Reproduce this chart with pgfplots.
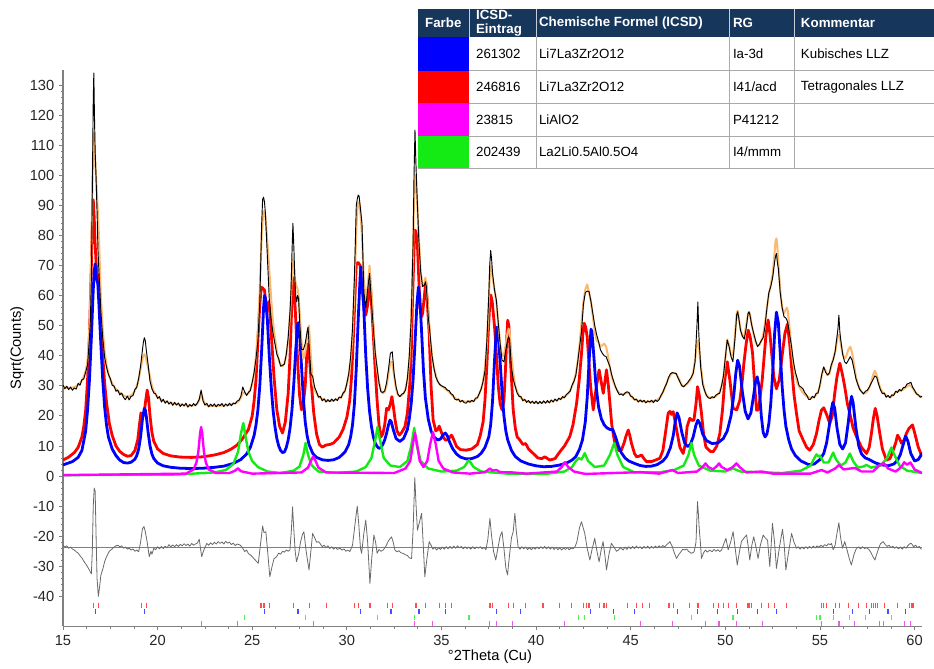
\documentclass[border=0pt]{standalone}
\usepackage{fontspec}
\setmainfont{Liberation Sans}
\usepackage{pgfplots}
\usepackage{pgfplotstable}
\pgfplotsset{compat=1.18}
\definecolor{hdr}{RGB}{22,54,92}
\definecolor{calc}{RGB}{250,185,110}
\definecolor{cred}{RGB}{255,0,0}
\definecolor{cblue}{RGB}{0,0,255}
\definecolor{cmag}{RGB}{255,0,255}
\definecolor{cgreen}{RGB}{20,235,20}
\definecolor{cdiff}{RGB}{105,105,105}
\definecolor{axgray}{RGB}{128,128,128}
\definecolor{gridg}{RGB}{170,170,170}

\pgfplotstableread[row sep=\\]{
x obs calc\\
15.0 30.2 29.6\\ 15.1 29.0 29.5\\ 15.2 29.9 29.4\\ 15.3 28.7 29.3\\ 15.4 29.6 29.3\\ 15.5 28.5 29.4\\ 15.6 29.3 29.6\\ 15.7 28.9 29.9\\ 15.8 30.8 30.3\\ 15.9 30.2 30.9\\
16.0 32.0 31.8\\ 16.1 32.3 33.0\\ 16.2 34.6 35.0\\ 16.3 37.0 38.5\\ 16.4 46.0 50.0\\ 16.45 52.0 60.0\\ 16.5 66.0 75.0\\ 16.55 95.0 95.0\\ 16.6 125.0 110.0\\ 16.63 134.0 114.0\\ 16.66 121.0 111.0\\ 16.7 108.0 105.0\\ 16.75 99.0 99.0\\ 16.8 88.0 93.0\\ 16.85 75.0 87.0\\ 16.9 68.0 80.0\\ 16.95 62.0 70.0\\ 17.0 55.0 60.0\\ 17.1 46.0 49.0\\ 17.2 39.5 41.5\\ 17.3 36.2 37.0\\ 17.4 33.8 34.2\\ 17.5 32.4 32.2\\ 17.6 30.2 30.8\\ 17.7 29.9 29.7\\ 17.8 28.2 28.9\\ 17.9 28.6 28.2\\ 18.0 27.0 27.7\\ 18.1 27.6 27.2\\ 18.2 26.1 26.8\\ 18.3 25.4 26.5\\ 18.4 26.6 26.4\\ 18.5 25.3 26.5\\ 18.6 26.5 26.8\\ 18.7 26.7 27.4\\ 18.8 28.8 28.4\\ 18.9 29.5 29.9\\ 19.0 32.5 32.0\\ 19.1 36.5 35.5\\ 19.2 42.0 38.8\\ 19.25 44.5 40.0\\ 19.3 46.0 40.5\\ 19.35 45.0 40.0\\ 19.4 42.0 38.8\\ 19.5 37.0 36.0\\ 19.6 31.5 33.0\\ 19.7 29.0 30.0\\ 19.8 27.6 28.2\\ 19.9 27.3 27.1\\
20.0 25.8 26.3\\ 20.1 26.4 25.8\\ 20.2 24.6 25.4\\ 20.3 25.5 25.1\\ 20.4 24.2 24.8\\ 20.5 25.0 24.6\\ 20.6 23.9 24.4\\ 20.7 24.6 24.2\\ 20.8 23.5 24.1\\ 20.9 24.5 24.0\\ 21.0 23.6 23.9\\ 21.1 24.3 23.8\\ 21.2 23.1 23.7\\ 21.3 24.0 23.6\\ 21.4 23.3 23.5\\ 21.5 24.2 23.5\\ 21.6 22.9 23.4\\ 21.7 23.8 23.4\\ 21.8 23.2 23.4\\ 21.9 24.1 23.5\\ 22.0 23.4 23.6\\ 22.1 24.3 24.0\\ 22.2 25.5 25.2\\ 22.3 28.6 27.5\\ 22.4 25.0 25.5\\ 22.5 23.6 24.0\\ 22.6 24.2 23.5\\ 22.7 23.0 23.3\\ 22.8 23.9 23.3\\ 22.9 23.2 23.3\\ 23.0 24.0 23.3\\ 23.1 23.0 23.3\\ 23.2 23.9 23.3\\ 23.3 23.4 23.4\\ 23.4 24.1 23.4\\ 23.5 23.1 23.5\\ 23.6 24.0 23.5\\ 23.7 23.3 23.6\\ 23.8 24.2 23.7\\ 23.9 23.4 23.8\\ 24.0 24.3 24.0\\ 24.1 24.0 24.2\\ 24.2 24.9 24.5\\ 24.3 25.2 25.0\\ 24.4 26.5 26.0\\ 24.5 29.6 27.8\\ 24.6 28.0 27.6\\ 24.7 26.8 27.0\\ 24.8 27.8 27.5\\ 24.9 28.4 28.8\\
25.0 31.2 30.8\\ 25.1 34.5 34.0\\ 25.2 39.0 40.0\\ 25.3 45.0 49.0\\ 25.4 58.0 62.0\\ 25.5 84.0 80.0\\ 25.55 92.0 85.0\\ 25.6 92.7 88.0\\ 25.65 91.0 88.0\\ 25.7 87.0 86.0\\ 25.8 73.0 78.0\\ 25.9 59.0 69.0\\ 26.0 52.0 59.0\\ 26.1 47.5 51.0\\ 26.2 44.0 46.0\\ 26.3 40.5 41.5\\ 26.4 39.0 38.5\\ 26.5 36.5 37.0\\ 26.6 36.8 36.5\\ 26.7 37.2 37.5\\ 26.8 40.5 40.0\\ 26.9 46.0 45.0\\ 27.0 55.0 54.0\\ 27.05 62.0 60.0\\ 27.1 74.0 67.0\\ 27.15 84.0 72.0\\ 27.2 76.0 70.0\\ 27.25 66.0 66.0\\ 27.3 60.0 64.0\\ 27.35 58.0 63.0\\ 27.4 60.0 62.0\\ 27.45 59.0 60.0\\ 27.5 52.0 55.0\\ 27.6 42.0 45.0\\ 27.7 42.0 39.0\\ 27.8 44.0 41.0\\ 27.9 48.0 46.0\\ 27.95 49.5 49.0\\ 28.0 44.0 50.0\\ 28.1 34.0 40.0\\ 28.2 33.0 31.0\\ 28.3 29.5 28.5\\ 28.4 28.0 27.5\\ 28.5 26.2 26.5\\ 28.6 26.5 26.0\\ 28.7 25.0 25.6\\ 28.8 25.7 25.3\\ 28.9 24.6 25.1\\ 29.0 25.4 25.0\\ 29.1 24.7 25.0\\ 29.2 25.6 25.0\\ 29.3 24.9 25.1\\ 29.4 25.7 25.3\\ 29.5 25.1 25.5\\ 29.6 26.3 25.8\\ 29.7 26.0 26.3\\ 29.8 27.6 27.2\\ 29.9 28.2 28.5\\
30.0 30.8 30.5\\ 30.1 34.0 33.5\\ 30.2 39.5 38.5\\ 30.3 49.0 47.0\\ 30.4 66.0 62.0\\ 30.5 90.0 82.0\\ 30.55 92.0 88.0\\ 30.6 93.4 91.0\\ 30.65 93.0 91.0\\ 30.7 90.0 89.0\\ 30.8 84.0 80.0\\ 30.9 61.0 65.0\\ 31.0 56.0 59.0\\ 31.1 62.0 63.0\\ 31.2 67.4 70.0\\ 31.3 58.0 62.0\\ 31.4 49.0 50.0\\ 31.5 41.0 41.0\\ 31.6 36.0 35.0\\ 31.7 31.0 31.0\\ 31.8 28.0 28.5\\ 31.9 27.8 27.5\\ 32.0 28.3 28.0\\ 32.1 31.0 30.0\\ 32.2 35.5 34.0\\ 32.3 40.8 38.0\\ 32.4 41.3 38.0\\ 32.5 34.0 33.0\\ 32.6 29.7 29.0\\ 32.7 27.2 27.0\\ 32.8 26.4 26.5\\ 32.9 27.2 26.8\\ 33.0 27.5 27.5\\ 33.1 28.6 29.0\\ 33.2 32.5 32.0\\ 33.3 40.0 38.0\\ 33.4 52.0 52.0\\ 33.5 77.0 75.0\\ 33.55 100.0 92.0\\ 33.6 115.0 100.0\\ 33.65 104.0 98.0\\ 33.7 95.0 93.0\\ 33.8 79.0 80.0\\ 33.9 68.0 68.0\\ 34.0 63.0 63.0\\ 34.1 63.5 64.0\\ 34.15 64.6 66.0\\ 34.2 63.0 64.0\\ 34.3 53.0 55.0\\ 34.4 47.0 46.0\\ 34.5 40.0 40.0\\ 34.6 36.0 36.0\\ 34.7 33.0 33.5\\ 34.8 31.5 31.5\\ 34.9 30.5 30.5\\
35.0 30.0 30.0\\ 35.1 29.7 29.5\\ 35.2 29.4 29.0\\ 35.3 28.6 28.5\\ 35.4 28.4 28.0\\ 35.5 27.4 27.3\\ 35.6 27.0 26.6\\ 35.7 25.6 26.0\\ 35.8 25.3 25.5\\ 35.9 25.6 25.2\\ 36.0 24.6 25.0\\ 36.1 25.2 24.9\\ 36.2 24.4 24.8\\ 36.3 24.2 24.7\\ 36.4 25.0 24.7\\ 36.5 24.5 24.9\\ 36.6 25.2 24.8\\ 36.7 24.7 25.0\\ 36.8 25.9 25.5\\ 36.9 26.0 26.2\\ 37.0 27.5 27.3\\ 37.1 29.0 29.0\\ 37.2 31.5 31.5\\ 37.3 35.0 36.0\\ 37.4 45.0 44.0\\ 37.5 60.0 58.0\\ 37.55 70.0 66.0\\ 37.6 75.0 70.0\\ 37.65 72.0 69.0\\ 37.7 67.4 66.0\\ 37.8 62.0 62.0\\ 37.9 58.5 58.0\\ 38.0 51.0 51.0\\ 38.1 44.0 44.0\\ 38.2 38.5 40.0\\ 38.3 38.0 40.0\\ 38.4 42.0 44.0\\ 38.5 45.5 48.0\\ 38.55 46.3 49.0\\ 38.6 45.5 48.0\\ 38.7 36.0 40.0\\ 38.8 32.0 34.0\\ 38.9 29.7 30.0\\ 39.0 27.6 28.0\\ 39.1 26.5 26.8\\ 39.2 26.4 26.0\\ 39.3 25.0 25.5\\ 39.4 25.5 25.2\\ 39.5 24.5 24.9\\ 39.6 25.1 24.7\\ 39.7 24.2 24.6\\ 39.8 24.9 24.5\\ 39.9 24.1 24.5\\
40.0 24.9 24.4\\ 40.1 24.0 24.4\\ 40.2 24.8 24.4\\ 40.3 24.1 24.4\\ 40.4 25.0 24.5\\ 40.5 24.2 24.5\\ 40.6 25.1 24.6\\ 40.7 24.3 24.7\\ 40.8 25.3 24.8\\ 40.9 24.6 25.0\\ 41.0 25.6 25.2\\ 41.1 24.9 25.3\\ 41.2 25.9 25.5\\ 41.3 25.4 25.7\\ 41.4 26.4 26.0\\ 41.5 26.0 26.5\\ 41.6 27.1 26.8\\ 41.7 27.6 27.5\\ 41.8 28.2 28.5\\ 41.9 30.2 29.8\\ 42.0 31.5 31.5\\ 42.1 33.5 34.0\\ 42.2 38.0 38.0\\ 42.3 43.0 44.0\\ 42.4 48.0 51.0\\ 42.5 57.0 58.0\\ 42.6 61.0 62.0\\ 42.7 61.5 63.7\\ 42.8 61.3 61.0\\ 42.9 58.0 58.0\\ 43.0 54.0 53.0\\ 43.1 50.0 48.0\\ 43.2 47.0 45.0\\ 43.3 44.7 44.5\\ 43.4 42.0 43.0\\ 43.5 40.8 43.5\\ 43.6 40.0 44.0\\ 43.7 39.7 43.0\\ 43.8 38.0 40.0\\ 43.9 36.4 36.0\\ 44.0 33.5 33.0\\ 44.1 31.5 31.0\\ 44.2 29.6 29.5\\ 44.3 28.2 28.3\\ 44.4 27.0 27.5\\ 44.5 27.3 27.2\\ 44.6 26.8 27.2\\ 44.7 27.6 27.4\\ 44.8 28.0 27.7\\ 44.9 27.8 27.6\\
45.0 26.5 26.8\\ 45.1 26.3 26.0\\ 45.2 25.3 25.5\\ 45.3 25.6 25.2\\ 45.4 24.6 25.0\\ 45.5 25.3 25.0\\ 45.6 24.6 25.0\\ 45.7 25.2 24.8\\ 45.8 24.3 24.7\\ 45.9 25.0 24.7\\ 46.0 24.6 24.7\\ 46.1 25.2 24.8\\ 46.2 24.4 24.9\\ 46.3 25.3 25.0\\ 46.4 24.8 25.3\\ 46.5 25.4 25.8\\ 46.6 26.8 26.6\\ 46.7 27.9 27.8\\ 46.8 29.5 29.3\\ 46.9 30.8 31.0\\ 47.0 32.8 32.5\\ 47.1 34.0 33.6\\ 47.2 34.4 34.2\\ 47.3 34.2 34.3\\ 47.4 34.1 34.0\\ 47.5 32.6 33.0\\ 47.6 31.3 31.5\\ 47.7 30.0 30.2\\ 47.8 29.7 29.8\\ 47.9 30.4 30.2\\ 48.0 31.0 30.8\\ 48.1 31.9 31.5\\ 48.2 32.8 32.5\\ 48.3 34.1 34.5\\ 48.4 38.0 38.5\\ 48.5 50.0 44.0\\ 48.55 57.9 45.0\\ 48.6 47.0 43.5\\ 48.7 36.0 37.0\\ 48.8 30.6 31.5\\ 48.9 28.5 28.5\\ 49.0 26.8 27.0\\ 49.1 26.0 26.3\\ 49.2 25.8 26.0\\ 49.3 26.4 26.0\\ 49.4 26.0 26.2\\ 49.5 26.9 26.5\\ 49.6 27.3 27.1\\ 49.7 27.5 28.0\\ 49.8 30.0 29.8\\ 49.9 33.2 33.0\\
50.0 39.5 39.0\\ 50.1 45.2 45.4\\ 50.2 43.0 43.5\\ 50.3 39.7 40.0\\ 50.4 38.0 40.0\\ 50.5 45.0 46.0\\ 50.6 53.5 54.0\\ 50.65 54.6 55.0\\ 50.7 53.0 53.0\\ 50.8 48.5 49.0\\ 50.9 46.5 46.5\\ 51.0 45.5 46.5\\ 51.1 49.0 50.0\\ 51.2 54.0 54.0\\ 51.25 54.6 54.6\\ 51.3 53.5 54.0\\ 51.4 50.0 50.0\\ 51.5 47.4 47.0\\ 51.6 45.0 44.5\\ 51.7 43.0 43.5\\ 51.8 43.8 43.5\\ 51.9 45.0 45.0\\ 52.0 46.0 47.0\\ 52.1 50.0 51.0\\ 52.2 56.0 56.0\\ 52.3 61.0 60.5\\ 52.4 63.0 63.5\\ 52.5 66.0 67.0\\ 52.6 71.0 74.0\\ 52.65 73.0 78.0\\ 52.7 74.0 79.0\\ 52.75 71.0 76.0\\ 52.8 69.0 71.0\\ 52.9 61.0 62.0\\ 53.0 56.0 56.0\\ 53.1 53.0 54.0\\ 53.2 52.5 55.5\\ 53.25 51.9 56.0\\ 53.3 51.0 55.0\\ 53.4 47.0 49.0\\ 53.5 43.0 42.0\\ 53.6 38.0 37.0\\ 53.7 34.6 33.5\\ 53.8 32.4 31.0\\ 53.9 30.0 29.7\\ 54.0 29.6 28.6\\ 54.1 29.0 27.7\\ 54.2 27.7 27.0\\ 54.3 26.9 26.5\\ 54.4 25.5 26.2\\ 54.5 25.5 26.0\\ 54.6 26.5 26.1\\ 54.7 26.0 26.4\\ 54.8 27.5 27.0\\ 54.9 27.6 28.0\\
55.0 30.4 30.0\\ 55.1 34.0 33.5\\ 55.2 36.3 36.0\\ 55.3 34.5 35.0\\ 55.4 33.6 33.5\\ 55.5 34.3 34.0\\ 55.6 37.0 36.5\\ 55.7 38.6 39.0\\ 55.8 41.3 41.0\\ 55.9 46.3 45.0\\ 55.95 49.0 47.0\\ 56.0 53.5 47.0\\ 56.05 48.0 46.0\\ 56.1 45.2 44.0\\ 56.2 40.5 40.5\\ 56.3 38.0 39.0\\ 56.4 37.4 40.0\\ 56.5 38.5 42.0\\ 56.6 39.7 43.0\\ 56.7 38.5 41.0\\ 56.8 35.5 37.0\\ 56.9 32.4 33.0\\ 57.0 30.5 30.5\\ 57.1 28.8 29.0\\ 57.2 28.0 28.0\\ 57.3 27.3 27.5\\ 57.4 28.2 27.6\\ 57.5 28.5 28.2\\ 57.6 29.5 29.2\\ 57.7 30.8 31.0\\ 57.8 32.0 33.5\\ 57.9 33.3 35.0\\ 58.0 32.8 33.5\\ 58.1 30.5 31.0\\ 58.2 28.6 29.0\\ 58.3 27.4 28.0\\ 58.4 27.6 27.3\\ 58.5 26.2 26.8\\ 58.6 26.8 26.5\\ 58.7 26.0 26.3\\ 58.8 27.0 26.5\\ 58.9 26.8 27.2\\ 59.0 28.2 27.8\\ 59.1 27.8 28.2\\ 59.2 28.8 28.3\\ 59.3 28.3 28.5\\ 59.4 29.4 28.8\\ 59.5 29.5 29.3\\ 59.6 30.6 29.8\\ 59.7 30.8 30.2\\ 59.8 31.2 30.0\\ 59.9 29.5 29.3\\ 60.0 28.5 28.2\\ 60.1 27.3 27.5\\ 60.2 27.0 26.8\\ 60.3 26.2 26.5\\ 60.4 26.5 26.4\\
}\obscalc

\newcommand{\tl}{\fontsize{11}{13}\selectfont}
\newcommand{\tb}{\fontsize{10}{10.6}\selectfont}

\begin{document}
\begin{tikzpicture}
\path (0pt,0pt) rectangle (700.5pt,501pt);
\begin{axis}[
  at={(47.25pt,31pt)}, anchor=south west,
  scale only axis, width=644.6pt, height=417.5pt,
  xmin=15, xmax=60.4, ymin=-50, ymax=135,
  axis lines*=left,
  axis line style={axgray, line width=0.8pt},
  tick style={axgray, line width=0.6pt},
  tick align=outside,
  major tick length=3pt, minor tick length=1.6pt,
  xtick={15,20,...,60}, minor x tick num=3,
  ytick={-40,-30,...,130}, minor y tick num=4,
  /pgf/number format/assume math mode=true,
  ticklabel style={font=\tl, text=black!85},
  xlabel={°2Theta (Cu)}, ylabel={Sqrt(Counts)},
  xlabel style={font=\tl, at={(axis description cs:0.497,-0.0545)}, anchor=center},
  ylabel style={font=\tl, at={(axis description cs:-0.0535,0.5)}, anchor=center, rotate=0},
  every axis plot/.append style={line join=round},
]
% components
\addplot[cred, line width=2.1pt] coordinates {(15.0,5.3)(15.3,6.3)(15.6,7.8)(15.8,9.5)(16.0,13)(16.1,16.5)(16.2,22)(16.3,32)(16.4,47)(16.5,70)(16.55,84)(16.6,91.8)(16.65,86)(16.7,77)(16.75,71)(16.8,67)(16.87,66.8)(16.95,60)(17.0,52)(17.1,40)(17.2,31)(17.3,24.5)(17.45,17.5)(17.6,13.5)(17.8,10)(18.0,8.2)(18.2,7.2)(18.4,6.6)(18.6,6.8)(18.8,8.5)(18.95,12)(19.05,17.5)(19.12,21)(19.2,20)(19.28,20.5)(19.37,25)(19.45,28.6)(19.52,26)(19.6,20)(19.7,14.5)(19.8,11.5)(20.0,9)(20.3,7.5)(20.7,6.7)(21.2,6.3)(21.8,6.2)(22.4,6.4)(23.0,7)(23.5,7.8)(23.9,9)(24.2,10.3)(24.5,12.5)(24.8,15.5)(25.0,20)(25.1,25)(25.2,32)(25.3,45)(25.4,57)(25.48,62.8)(25.55,62.5)(25.65,61.8)(25.75,55)(25.8,55)(25.88,58)(25.95,53)(26.05,43)(26.15,33)(26.3,22)(26.45,16.5)(26.6,14.3)(26.75,18)(26.9,27.5)(27.0,40)(27.08,55)(27.15,66)(27.22,62)(27.3,52)(27.4,38)(27.5,27)(27.6,22)(27.7,24)(27.8,30)(27.88,40)(27.95,44)(28.02,40)(28.12,31)(28.25,21)(28.4,14)(28.55,10.5)(28.7,9.6)(28.9,10.3)(29.1,10.5)(29.3,11)(29.6,13)(29.8,15.5)(30.0,19.5)(30.15,25)(30.25,33)(30.35,47)(30.45,63)(30.5,70.7)(30.6,71)(30.7,70)(30.8,63)(30.9,56)(31.0,53.5)(31.1,57)(31.2,64)(31.28,60)(31.4,47)(31.5,35)(31.6,25)(31.7,17)(31.8,13)(31.9,14)(32.0,17)(32.1,22.5)(32.2,22)(32.3,24)(32.38,26.4)(32.46,23)(32.55,18.6)(32.65,15)(32.77,13.6)(32.9,14.5)(33.07,16.4)(33.2,21)(33.33,30.8)(33.4,40)(33.47,58.5)(33.55,75)(33.6,81.8)(33.66,81)(33.72,78.5)(33.8,66)(33.86,56.3)(33.95,53)(34.0,54)(34.1,60)(34.17,64.6)(34.25,58)(34.35,47.4)(34.45,30)(34.56,18.6)(34.7,15)(34.8,15.5)(34.88,16.6)(34.97,15)(35.09,13)(35.2,12)(35.32,12)(35.45,13)(35.53,13.6)(35.62,12.5)(35.8,9.8)(36.0,8.8)(36.3,8.6)(36.6,9)(36.9,10.5)(37.05,13.5)(37.2,18)(37.3,25.3)(37.4,37)(37.47,47.4)(37.55,57)(37.61,60.2)(37.68,58)(37.8,50)(37.91,40)(38.0,30)(38.1,24)(38.2,22)(38.3,25)(38.38,35)(38.45,46)(38.5,51.8)(38.56,50)(38.65,38)(38.79,22)(38.9,16)(39.0,13)(39.14,12)(39.3,10.5)(39.45,10.8)(39.6,9)(39.85,7.5)(40.1,6)(40.3,5.8)(40.46,6.4)(40.73,5.3)(41.0,5.8)(41.26,8.1)(41.5,10)(41.78,13.1)(41.95,17)(42.14,24.2)(42.28,32)(42.4,40.8)(42.47,47)(42.54,50.8)(42.62,49.5)(42.7,46.3)(42.8,37)(42.88,29.7)(43.02,22)(43.16,28.6)(43.33,35.3)(43.45,31)(43.55,27.5)(43.65,32)(43.72,35.3)(43.82,30)(43.9,24.2)(44.0,17)(44.16,10.9)(44.35,8.5)(44.51,8.7)(44.65,11)(44.74,13.1)(44.87,15.3)(44.95,13.5)(45.04,10.9)(45.2,7.5)(45.31,6.4)(45.45,6.6)(45.57,7)(45.7,5.8)(45.83,4.8)(46.1,4.8)(46.3,5.3)(46.54,5.9)(46.7,8.5)(46.85,15)(46.98,20.9)(47.07,21.5)(47.15,20.5)(47.24,21.4)(47.35,18)(47.46,14.2)(47.6,9.5)(47.77,7.5)(47.9,11)(47.98,16.4)(48.12,19.2)(48.24,18.5)(48.34,18.6)(48.45,24)(48.53,29.7)(48.62,27)(48.74,20.8)(48.85,14)(48.97,9.7)(49.2,8.2)(49.36,8.1)(49.55,10)(49.71,14.2)(49.85,22)(49.97,31.9)(50.1,38)(50.24,31.9)(50.41,22.5)(50.6,22)(50.77,25.3)(50.9,32)(50.98,37.5)(51.1,44)(51.21,48.5)(51.32,46)(51.44,40.8)(51.55,30)(51.65,21.9)(51.74,22)(51.82,25.3)(51.95,32)(52.05,39.7)(52.15,47)(52.26,51.9)(52.36,47)(52.46,40)(52.56,33)(52.7,29)(52.85,32)(53.0,40)(53.15,47.5)(53.28,50.5)(53.4,44)(53.5,36.3)(53.63,27)(53.76,20.8)(53.9,15)(54.11,12)(54.3,9.5)(54.46,8.6)(54.65,10.5)(54.82,14.2)(54.95,18.5)(55.08,21.9)(55.2,22.7)(55.35,20.5)(55.52,17.5)(55.65,20)(55.78,27.5)(55.9,33)(56.05,37.5)(56.18,34)(56.31,29.7)(56.45,24)(56.58,20.8)(56.75,16)(56.93,13.1)(57.2,9.5)(57.46,7.5)(57.6,9.5)(57.72,14.2)(57.82,19)(57.92,22.5)(58.02,20)(58.16,14.2)(58.3,9)(58.51,5.3)(58.7,5.8)(58.87,8.6)(59.0,11)(59.1,13.6)(59.2,12.5)(59.31,10.9)(59.45,12)(59.57,14.2)(59.7,15.8)(59.89,17)(60.02,14)(60.19,9.7)(60.4,6.4)};
\addplot[cblue, line width=2.1pt] coordinates {(15.0,3.7)(15.5,4.8)(15.8,6.2)(16.0,8.5)(16.2,15)(16.3,22)(16.4,32)(16.5,46)(16.6,62)(16.65,68)(16.7,70.5)(16.76,66)(16.84,64)(16.9,57)(17.0,44)(17.1,32)(17.2,23)(17.3,17)(17.4,13)(17.6,9)(17.8,6.8)(18.0,5.3)(18.2,4.5)(18.4,4.3)(18.6,4.6)(18.8,5.6)(18.9,6.8)(19.0,9)(19.1,13)(19.2,19)(19.3,22.5)(19.35,22)(19.4,20)(19.5,14.5)(19.6,10)(19.7,7.3)(19.8,5.8)(20.0,4.3)(20.3,3.4)(20.7,2.9)(21.2,2.6)(21.8,2.5)(22.4,2.6)(23.0,2.9)(23.5,3.3)(24.0,4.2)(24.4,5.5)(24.7,7.3)(24.9,9.5)(25.1,13.5)(25.2,17)(25.3,22)(25.4,30)(25.5,42)(25.6,56)(25.65,60)(25.7,59)(25.8,52)(25.9,40)(26.0,30)(26.1,22)(26.2,16.5)(26.3,12.5)(26.4,10)(26.5,8.5)(26.6,7.8)(26.7,8)(26.8,9.5)(26.9,12)(27.0,16)(27.1,22)(27.2,31)(27.3,42)(27.4,50.5)(27.45,51)(27.5,48)(27.6,37)(27.7,26)(27.8,18)(27.9,13.5)(28.0,10.5)(28.2,7.5)(28.4,6.2)(28.7,5.4)(29.0,5.2)(29.3,5.4)(29.6,6.2)(29.9,8)(30.1,10.5)(30.2,13)(30.3,17)(30.4,24)(30.5,36)(30.6,52)(30.7,66)(30.75,69.5)(30.8,68)(30.9,55)(31.0,40)(31.1,29)(31.2,21.5)(31.3,16.5)(31.4,13)(31.5,11)(31.6,9.8)(31.7,9.2)(31.8,9.5)(31.9,10.5)(32.0,12)(32.1,14.2)(32.2,17)(32.28,18.6)(32.35,18)(32.45,15.5)(32.6,12.5)(32.8,11.5)(33.0,12.5)(33.2,15.5)(33.3,19)(33.4,24)(33.5,32)(33.6,44)(33.7,57)(33.78,62.8)(33.85,60)(33.95,48)(34.05,35)(34.15,26)(34.3,19)(34.45,15)(34.6,13)(34.8,12)(34.95,12.3)(35.1,13.8)(35.2,14.3)(35.3,13.5)(35.45,11)(35.6,9)(35.8,7.3)(36.0,6.3)(36.3,5.7)(36.6,5.8)(36.9,6.5)(37.1,7.6)(37.3,9.5)(37.5,13)(37.6,17)(37.7,25)(37.8,38)(37.9,49)(37.95,49.5)(38.0,47)(38.1,38)(38.2,28)(38.3,20)(38.4,15)(38.5,12)(38.7,8.5)(38.9,6.5)(39.2,5)(39.6,4)(40.0,3.4)(40.4,3.1)(40.8,3.2)(41.2,3.6)(41.6,4.3)(41.9,5.3)(42.1,6.5)(42.3,9)(42.45,12)(42.6,18)(42.7,26)(42.8,38)(42.9,48.8)(42.95,48)(43.05,40)(43.15,31)(43.3,23)(43.45,19)(43.6,17)(43.75,16)(43.9,15.5)(44.05,15.5)(44.2,13)(44.35,10)(44.5,7.8)(44.7,6)(44.9,5)(45.2,4.2)(45.5,3.5)(45.8,3.2)(46.1,3.3)(46.4,3.8)(46.7,5)(46.9,6.5)(47.1,9.5)(47.25,13.5)(47.35,18)(47.45,21)(47.55,19.5)(47.7,14.5)(47.85,11)(48.0,9.8)(48.15,10.5)(48.3,13)(48.45,17)(48.55,18.6)(48.65,17.5)(48.8,14)(49.0,11.8)(49.3,10.8)(49.6,11)(49.9,12.5)(50.1,15)(50.3,20)(50.45,27)(50.55,34)(50.65,38.5)(50.75,36.5)(50.9,28)(51.05,21.5)(51.2,19)(51.35,21)(51.5,27)(51.6,31.5)(51.68,33)(51.78,30)(51.9,20)(52.0,14.5)(52.1,13)(52.2,14)(52.3,17.5)(52.4,24)(52.5,34)(52.6,47)(52.7,54.5)(52.8,51)(52.9,41)(53.0,30)(53.1,22)(53.2,16.5)(53.35,12)(53.5,9)(53.7,6.8)(54.0,5)(54.4,3.8)(54.7,4)(55.0,5.5)(55.2,7.5)(55.35,11)(55.5,17)(55.6,22)(55.68,24.5)(55.78,22.5)(55.9,16)(56.05,10.5)(56.2,9)(56.35,11)(56.5,18)(56.6,24)(56.67,26.5)(56.75,24.5)(56.9,16)(57.05,10)(57.2,7.3)(57.4,6)(57.6,5.5)(57.8,4.8)(58.0,4.2)(58.3,3.7)(58.6,3.4)(58.9,4)(59.1,5.2)(59.25,7.2)(59.4,10.5)(59.53,13.3)(59.65,11.5)(59.8,7.5)(60.0,5)(60.2,5.5)(60.4,7.6)};
\addplot[cgreen, line width=1.8pt] coordinates {(15.0,0.3)(21.0,0.5)(23.0,1.2)(23.6,2)(24.0,4)(24.25,8)(24.4,14)(24.53,17.6)(24.65,13)(24.8,8)(25.0,5)(25.3,3)(25.8,1.5)(26.5,1)(27.2,1.8)(27.5,3.2)(27.7,7)(27.82,11)(27.95,7)(28.15,3.5)(28.5,1.5)(29.5,1)(30.5,1.5)(31.0,3)(31.3,6)(31.5,12)(31.62,16.3)(31.75,12)(31.95,6)(32.3,3.5)(32.8,3)(33.2,5)(33.4,10)(33.56,16)(33.7,10)(33.9,5)(34.3,2.5)(35.0,1.5)(35.8,1.8)(36.2,3)(36.45,5.3)(36.7,3)(37.1,1.5)(38.5,0.8)(40.5,0.7)(41.5,1.5)(41.9,3)(42.1,5)(42.26,6)(42.4,5.5)(42.57,7.6)(42.75,5)(43.1,3)(43.6,3.5)(43.9,7)(44.13,11)(44.3,7)(44.6,3)(45.2,1.2)(46.5,1.2)(47.3,2)(47.8,3.5)(48.05,7)(48.21,11)(48.35,7)(48.6,3.5)(49.2,1.8)(50.0,1.5)(50.41,2.5)(50.8,1.5)(53.0,1)(54.0,1.8)(54.5,3.5)(54.75,6.5)(54.82,7.2)(54.92,6.5)(55.0,6.8)(55.2,4.5)(55.45,4.5)(55.6,6.5)(55.7,7.8)(55.85,5.5)(56.1,3.5)(56.35,4.5)(56.5,6.5)(56.58,7.5)(56.75,5)(57.0,2.8)(57.3,3.2)(57.46,3.7)(57.7,2.8)(58.2,3.5)(58.55,6)(58.7,8.5)(58.78,9.5)(58.9,7.5)(59.2,3.5)(59.6,1.8)(60.4,1)};
\addplot[cmag, line width=1.8pt] coordinates {(15.0,0.3)(21.5,0.8)(21.9,2.2)(22.05,4.5)(22.15,8)(22.25,14.5)(22.3,16.3)(22.35,14.5)(22.45,8)(22.55,4.5)(22.7,2.2)(23.1,1)(23.8,1)(24.1,1.8)(24.24,2.6)(24.4,1.6)(25.0,0.8)(27.6,1.2)(27.95,2.8)(28.1,5)(28.22,6.5)(28.35,5)(28.5,2.8)(28.9,1.2)(32.5,1)(33.1,2.5)(33.35,5)(33.5,11)(33.6,14.3)(33.7,11)(33.85,5)(34.05,3)(34.25,5)(34.4,10.5)(34.55,14.6)(34.7,10.5)(34.85,5)(35.1,2.5)(35.6,1.2)(36.5,0.8)(37.3,1.3)(37.45,2)(37.56,2.5)(37.7,1.8)(37.9,2)(38.1,1.3)(38.75,1.2)(39.5,0.8)(41.1,1.5)(41.35,3)(41.52,4.6)(41.7,3)(42.0,1.5)(42.6,0.7)(45.52,1.3)(46.5,0.8)(47.21,2)(47.5,1)(48.5,1.5)(48.8,3)(48.95,4.2)(49.1,3)(49.35,2.2)(49.55,3.3)(49.67,4.2)(49.8,3)(50.1,2)(50.4,3)(50.59,4.2)(50.75,3)(51.1,1.2)(51.95,1.5)(52.5,0.8)(54.5,0.8)(55.08,2)(55.4,1.2)(55.8,2.5)(56.01,3.7)(56.25,2.2)(56.84,2.7)(57.2,1.5)(57.8,1.5)(58.13,3.5)(58.37,4.3)(58.6,2.5)(59.0,1.5)(59.3,3)(59.45,4.6)(59.6,3.8)(59.78,4.5)(60.0,2.2)(60.4,1)};
% calc and obs
\addplot[calc, line width=1.5pt] table[x=x, y=calc] {\obscalc};
\addplot[black, line width=0.7pt] table[x=x, y=obs] {\obscalc};
% difference
\addplot[axgray, line width=0.5pt] coordinates {(15,-23.7)(60.4,-23.7)};
\addplot[cdiff, line width=0.6pt] coordinates {(15.0,-23.0)(15.1,-23.6)(15.2,-23.2)(15.3,-24.0)(15.4,-23.6)(15.5,-24.3)(15.6,-24.6)(15.7,-25.2)(15.8,-25.6)(15.9,-26.5)(16.0,-27.2)(16.1,-28.3)(16.2,-29.2)(16.3,-30.2)(16.4,-31.3)(16.5,-32.5)(16.55,-25)(16.6,-10)(16.65,-4)(16.7,-5)(16.75,-20)(16.8,-34)(16.87,-40)(16.95,-36)(17.0,-33)(17.1,-31)(17.2,-28.5)(17.3,-26.8)(17.45,-25)(17.6,-24.2)(17.7,-23.6)(17.8,-23.2)(17.9,-23.0)(18.0,-23.5)(18.1,-23.2)(18.2,-24.0)(18.3,-23.6)(18.4,-24.3)(18.5,-24.0)(18.6,-24.6)(18.7,-24.2)(18.8,-25.0)(18.9,-24.6)(19.0,-25.2)(19.1,-22)(19.2,-17.5)(19.28,-16.8)(19.35,-18.5)(19.45,-22)(19.56,-26.8)(19.65,-25)(19.7,-26)(19.8,-24)(19.9,-24.5)(20.0,-23.5)(20.1,-24.2)(20.2,-23.4)(20.3,-24.1)(20.4,-23.3)(20.5,-23.9)(20.6,-22.8)(20.7,-23.6)(20.8,-22.9)(20.9,-23.5)(21.0,-22.8)(21.1,-23.4)(21.2,-22.7)(21.3,-23.2)(21.4,-22.5)(21.5,-23.1)(21.6,-22.6)(21.7,-23.3)(21.8,-22.4)(21.9,-23.0)(22.0,-22.6)(22.1,-22.3)(22.2,-21.0)(22.33,-26.8)(22.45,-24.5)(22.6,-22.4)(22.7,-23.0)(22.8,-22.2)(22.9,-22.8)(23.0,-22.0)(23.1,-22.6)(23.2,-21.8)(23.3,-22.4)(23.4,-21.9)(23.5,-22.6)(23.6,-21.7)(23.7,-22.3)(23.8,-22.0)(23.9,-22.8)(24.0,-22.3)(24.1,-23.1)(24.2,-22.6)(24.35,-22.9)(24.45,-23.5)(24.6,-25.1)(24.7,-24.6)(24.8,-25.8)(24.9,-26.2)(25.0,-26.8)(25.1,-27.5)(25.2,-28.2)(25.32,-29)(25.45,-22)(25.55,-16.6)(25.62,-18.8)(25.72,-18.5)(25.8,-24)(25.93,-33.5)(26.05,-30)(26.15,-27.5)(26.29,-26.8)(26.4,-25.6)(26.5,-26.0)(26.6,-25.0)(26.7,-25.3)(26.8,-24.6)(26.9,-25.0)(26.99,-24.6)(27.07,-18)(27.13,-10.2)(27.2,-18)(27.27,-25)(27.34,-28.5)(27.45,-26)(27.55,-22)(27.65,-19.5)(27.73,-18.5)(27.85,-25)(28.0,-31.2)(28.1,-25)(28.19,-19.1)(28.3,-20.5)(28.4,-22)(28.5,-21.8)(28.58,-22.4)(28.7,-23.5)(28.8,-23.0)(28.9,-23.8)(29.0,-23.2)(29.1,-24.1)(29.2,-23.5)(29.3,-24.3)(29.4,-23.7)(29.5,-24.4)(29.63,-24)(29.75,-24.6)(29.85,-24.2)(29.95,-25.0)(30.05,-24.6)(30.16,-25.1)(30.3,-23)(30.45,-15)(30.55,-10)(30.63,-16)(30.72,-24)(30.78,-25.7)(30.9,-19)(31.0,-14.6)(31.1,-22)(31.22,-35.7)(31.32,-27)(31.43,-19.6)(31.52,-22)(31.6,-25.7)(31.7,-24.4)(31.8,-25.0)(31.92,-24.6)(32.05,-23.5)(32.2,-21.5)(32.36,-20.2)(32.45,-22)(32.54,-24.6)(32.65,-25.2)(32.75,-24.8)(32.85,-25.5)(32.98,-25.7)(33.1,-26.2)(33.2,-26.4)(33.3,-27.2)(33.42,-27.4)(33.5,-18)(33.59,-0.5)(33.66,-10)(33.73,-18)(33.85,-15)(33.95,-12.4)(34.03,-22)(34.12,-33.5)(34.22,-28)(34.35,-21.8)(34.45,-23)(34.55,-24.3)(34.65,-23.6)(34.74,-24.6)(34.85,-23.8)(34.95,-24.4)(35.05,-23.6)(35.15,-24.3)(35.25,-23.5)(35.35,-24.2)(35.45,-23.4)(35.55,-24.1)(35.65,-23.3)(35.75,-24.0)(35.85,-23.2)(35.95,-23.9)(36.05,-23.4)(36.15,-24.2)(36.25,-23.5)(36.35,-24.1)(36.45,-23.6)(36.55,-24.3)(36.65,-23.5)(36.75,-24.2)(36.85,-23.6)(36.95,-24.0)(37.05,-23.5)(37.15,-24.2)(37.25,-23.7)(37.35,-24.5)(37.45,-21)(37.56,-14.1)(37.65,-20)(37.75,-25)(37.87,-27.9)(37.98,-24)(38.1,-20)(38.2,-18.5)(38.3,-24)(38.4,-30.5)(38.49,-32.9)(38.6,-26)(38.7,-20.5)(38.79,-18.5)(38.88,-12.4)(38.95,-18)(39.05,-23.5)(39.15,-24.3)(39.25,-23.5)(39.35,-24.2)(39.45,-23.6)(39.55,-24.4)(39.65,-23.8)(39.75,-24.5)(39.85,-23.7)(39.95,-24.3)(40.05,-23.6)(40.15,-24.2)(40.25,-23.5)(40.35,-24.1)(40.45,-23.4)(40.55,-24.2)(40.65,-23.5)(40.75,-24.3)(40.85,-23.6)(40.95,-24.4)(41.05,-23.7)(41.15,-24.5)(41.25,-23.8)(41.35,-24.6)(41.45,-23.9)(41.55,-24.4)(41.65,-23.8)(41.75,-24.5)(41.85,-23.9)(41.95,-24.2)(42.05,-23.6)(42.15,-22)(42.3,-17)(42.4,-15.2)(42.5,-17.5)(42.57,-19)(42.7,-24)(42.84,-27.9)(42.97,-24)(43.1,-20.7)(43.2,-24.5)(43.33,-28.5)(43.44,-24.5)(43.54,-21.8)(43.63,-26)(43.72,-31.2)(43.85,-26)(43.98,-22.4)(44.1,-23.5)(44.25,-25)(44.35,-24.6)(44.45,-23.8)(44.6,-24.6)(44.7,-23.6)(44.8,-24.4)(44.9,-23.5)(45.0,-24.2)(45.1,-23.4)(45.2,-24.1)(45.3,-23.3)(45.4,-24.0)(45.5,-23.5)(45.6,-24.2)(45.7,-23.4)(45.8,-24.0)(45.9,-23.3)(46.0,-24.1)(46.1,-23.4)(46.2,-24.0)(46.3,-23.3)(46.4,-23.9)(46.5,-23.2)(46.6,-23.8)(46.7,-23.1)(46.8,-23.6)(46.9,-22.8)(47.0,-22.3)(47.07,-21.8)(47.2,-23.5)(47.3,-25.5)(47.42,-27.4)(47.55,-26)(47.65,-25.2)(47.75,-24.3)(47.86,-24.6)(47.95,-24.2)(48.05,-25.0)(48.12,-25.3)(48.21,-25.7)(48.35,-25.2)(48.45,-22)(48.53,-8.5)(48.58,-13)(48.62,-17.4)(48.68,-22)(48.74,-27.4)(48.85,-25.5)(48.95,-24.6)(49.05,-25.3)(49.18,-24.6)(49.3,-25.2)(49.4,-24.4)(49.5,-25.0)(49.6,-24.5)(49.7,-25.1)(49.8,-24.6)(49.92,-22.5)(50.03,-20.7)(50.15,-24.5)(50.28,-22)(50.41,-18.5)(50.52,-24)(50.63,-29.6)(50.75,-25)(50.85,-21.8)(51.0,-20.5)(51.12,-19.6)(51.2,-23)(51.29,-27.9)(51.4,-23)(51.5,-20.2)(51.6,-23)(51.73,-27.4)(51.85,-23)(52.0,-19.6)(52.1,-20.5)(52.23,-21.3)(52.35,-30.1)(52.43,-22)(52.49,-15.7)(52.6,-22)(52.7,-30.7)(52.85,-24)(53.02,-17.7)(53.1,-22)(53.2,-31.2)(53.35,-25)(53.5,-19.1)(53.63,-22)(53.76,-24)(53.85,-23.5)(53.95,-24.3)(54.05,-23.6)(54.15,-24.2)(54.25,-23.5)(54.35,-24.1)(54.45,-23.4)(54.55,-24.0)(54.65,-23.3)(54.75,-23.9)(54.85,-23.2)(54.95,-23.7)(55.05,-23.0)(55.15,-23.5)(55.25,-22.8)(55.35,-23.2)(55.45,-22.5)(55.55,-22.8)(55.61,-22.4)(55.7,-24.5)(55.8,-23)(55.9,-19)(56.0,-15.5)(56.08,-20)(56.19,-24)(56.31,-21.8)(56.45,-25)(56.55,-27.5)(56.66,-29.6)(56.8,-26)(56.93,-24)(57.05,-23.6)(57.15,-24.2)(57.25,-23.5)(57.35,-24.1)(57.46,-23.8)(57.6,-24.5)(57.7,-25.5)(57.8,-26.8)(57.9,-27.9)(58.0,-26)(58.1,-24)(58.2,-22.5)(58.34,-21.8)(58.45,-22.8)(58.55,-23.4)(58.65,-23.0)(58.75,-23.8)(58.85,-23.3)(58.95,-24.0)(59.05,-23.5)(59.15,-24.2)(59.25,-23.6)(59.35,-24.3)(59.45,-23.5)(59.55,-24.0)(59.65,-23.1)(59.75,-22.5)(59.83,-22.4)(59.95,-23.5)(60.05,-23.0)(60.15,-23.8)(60.25,-23.4)(60.36,-24.4)};
% reflection markers
\addplot[only marks, mark=|, mark size=2pt, mark options={line width=0.9pt, draw=cred!70!white}] coordinates {(16.62,-43)(16.88,-43)(19.14,-43)(19.40,-43)(25.46,-43)(25.62,-43)(25.93,-43)(27.16,-43)(28.02,-43)(28.93,-43)(30.42,-43)(30.60,-43)(31.22,-43)(32.15,-43)(32.40,-43)(33.65,-43)(34.14,-43)(34.88,-43)(35.23,-43)(35.53,-43)(37.56,-43)(37.68,-43)(38.53,-43)(38.82,-43)(39.44,-43)(40.37,-43)(41.25,-43)(41.87,-43)(42.49,-43)(42.66,-43)(42.80,-43)(43.37,-43)(43.55,-43)(43.63,-43)(43.72,-43)(44.82,-43)(45.31,-43)(45.61,-43)(46.01,-43)(47.02,-43)(47.24,-43)(48.12,-43)(48.56,-43)(49.36,-43)(49.62,-43)(49.89,-43)(50.15,-43)(50.59,-43)(51.20,-43)(51.29,-43)(51.38,-43)(51.91,-43)(52.26,-43)(52.61,-43)(53.23,-43)(55.08,-43)(55.20,-43)(55.34,-43)(55.84,-43)(56.05,-43)(56.49,-43)(57.02,-43)(57.46,-43)(57.72,-43)(57.81,-43)(57.93,-43)(58.04,-43)(58.43,-43)(59.09,-43)(59.75,-43)(59.83,-43)(59.92,-43)};
\addplot[only marks, mark=|, mark size=2pt, mark options={line width=0.9pt, draw=cblue!70!white}] coordinates {(16.71,-45)(19.31,-45)(25.66,-45)(27.42,-45)(30.74,-45)(32.33,-45)(33.81,-45)(35.21,-45)(37.91,-45)(39.19,-45)(42.89,-45)(44.07,-45)(45.22,-45)(47.46,-45)(48.53,-45)(49.59,-45)(50.64,-45)(51.68,-45)(52.70,-45)(55.70,-45)(56.70,-45)(57.63,-45)(58.60,-45)(59.53,-45)};
\addplot[only marks, mark=|, mark size=2pt, mark options={line width=0.9pt, draw=cgreen!75!white}] coordinates {(24.58,-47)(27.81,-47)(31.62,-47)(33.56,-47)(36.45,-47)(42.26,-47)(42.57,-47)(44.14,-47)(48.21,-47)(50.41,-47)(54.82,-47)(55.00,-47)(55.70,-47)(56.58,-47)(57.42,-47)(58.78,-47)};
\addplot[only marks, mark=|, mark size=2pt, mark options={line width=0.9pt, draw=cmag!70!white}] coordinates {(22.30,-49)(24.23,-49)(28.22,-49)(33.59,-49)(34.53,-49)(37.52,-49)(37.91,-49)(38.75,-49)(41.52,-49)(45.52,-49)(47.21,-49)(48.95,-49)(49.67,-49)(50.59,-49)(51.95,-49)(55.08,-49)(56.01,-49)(56.84,-49)(58.13,-49)(58.37,-49)(59.45,-49)(59.78,-49)};
\end{axis}
% ---- table ----
\fill[white] (313.7pt,374.8pt) rectangle (700.5pt,494.25pt);
\fill[hdr] (313.7pt,473.5pt) rectangle (700.5pt,494.25pt);
\fill[cblue] (313.7pt,447.98pt) rectangle (352pt,473.5pt);
\fill[cred] (313.7pt,423.5pt) rectangle (352pt,447.98pt);
\fill[cmag] (313.7pt,399pt) rectangle (352pt,423.5pt);
\fill[cgreen] (313.7pt,374.8pt) rectangle (352pt,399pt);
\draw[gridg, line width=0.5pt] (352pt,447.98pt) -- (700.5pt,447.98pt)
  (352pt,423.5pt) -- (700.5pt,423.5pt)
  (352pt,399pt) -- (700.5pt,399pt)
  (313.7pt,374.8pt) -- (700.5pt,374.8pt)
  (402.5pt,374.8pt) -- (402.5pt,473.5pt)
  (547.5pt,374.8pt) -- (547.5pt,473.5pt)
  (596.25pt,374.8pt) -- (596.25pt,473.5pt);
\draw[white!75!hdr, line width=0.5pt] (352pt,473.5pt) -- (352pt,494.25pt)
  (402.5pt,473.5pt) -- (402.5pt,494.25pt)
  (547.5pt,473.5pt) -- (547.5pt,494.25pt)
  (596.25pt,473.5pt) -- (596.25pt,494.25pt);
\begin{scope}[every node/.style={inner sep=0pt, anchor=west}]
\node[text=white, font=\tb\bfseries] at (318.75pt,483.9pt) {Farbe};
\node[text=white, font=\tb\bfseries, align=left] at (357pt,483.6pt) {ICSD-\\Eintrag};
\node[text=white, font=\tb\bfseries] at (404.25pt,483.9pt) {Chemische Formel (ICSD)};
\node[text=white, font=\tb\bfseries] at (549.75pt,483.9pt) {RG};
\node[text=white, font=\tb\bfseries] at (600.75pt,483.9pt) {Kommentar};
\node[font=\tb] at (357pt,460.7pt) {261302};
\node[font=\tb] at (404.25pt,460.7pt) {Li7La3Zr2O12};
\node[font=\tb] at (549.75pt,460.7pt) {Ia-3d};
\node[font=\tb] at (600.75pt,460.7pt) {Kubisches LLZ};
\node[font=\tb] at (357pt,435.75pt) {246816};
\node[font=\tb] at (404.25pt,435.75pt) {Li7La3Zr2O12};
\node[font=\tb] at (549.75pt,435.75pt) {I41/acd};
\node[font=\tb] at (600.75pt,435.75pt) {Tetragonales LLZ};
\node[font=\tb] at (357pt,411.2pt) {23815};
\node[font=\tb] at (404.25pt,411.2pt) {LiAlO2};
\node[font=\tb] at (549.75pt,411.2pt) {P41212};
\node[font=\tb] at (357pt,386.85pt) {202439};
\node[font=\tb] at (404.25pt,386.85pt) {La2Li0.5Al0.5O4};
\node[font=\tb] at (549.75pt,386.85pt) {I4/mmm};
\end{scope}
\end{tikzpicture}
\end{document}
